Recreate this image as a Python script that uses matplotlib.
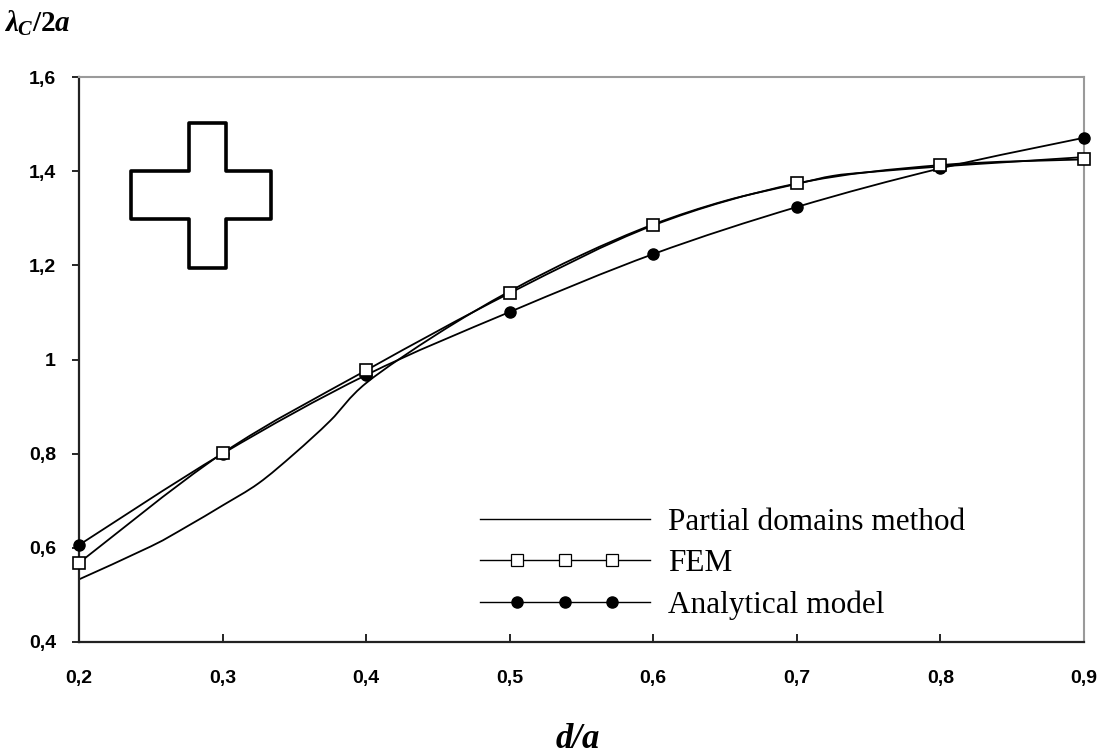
import numpy as np
import matplotlib
matplotlib.use("Agg")
import matplotlib.pyplot as plt
from matplotlib.path import Path
from matplotlib.patches import PathPatch, Polygon
from matplotlib.lines import Line2D
from matplotlib.legend_handler import HandlerLine2DCompound
from matplotlib.ticker import FixedLocator, FixedFormatter

# --- data ---
x_pts = [0.2, 0.3, 0.4, 0.5, 0.6, 0.7, 0.8, 0.9]
fem = [0.568, 0.801, 0.977, 1.141, 1.285, 1.374, 1.413, 1.425]
analytical = [0.606, 0.800, 0.967, 1.101, 1.224, 1.324, 1.406, 1.471]

pdm_x = [0.2, 0.25, 0.275, 0.3, 0.325, 0.35, 0.375, 0.4, 0.45, 0.5,
         0.55, 0.6, 0.65, 0.7, 0.725, 0.75, 0.8, 0.85, 0.9]
pdm_y = [0.533, 0.603, 0.645, 0.69, 0.737, 0.80, 0.870, 0.950, 1.055, 1.145,
         1.222, 1.287, 1.337, 1.373, 1.390, 1.398, 1.410, 1.420, 1.430]

x_ticks = [0.2, 0.3, 0.4, 0.5, 0.6, 0.7, 0.8, 0.9]
x_ticklabels = ["0,2", "0,3", "0,4", "0,5", "0,6", "0,7", "0,8", "0,9"]
y_ticks = [0.4, 0.6, 0.8, 1.0, 1.2, 1.4, 1.6]
y_ticklabels = ["0,4", "0,6", "0,8", "1", "1,2", "1,4", "1,6"]

labels = ["Partial domains method", "FEM", "Analytical model"]

plt.rcParams["mathtext.fontset"] = "custom"
plt.rcParams["mathtext.rm"] = "Liberation Serif:bold"
plt.rcParams["mathtext.it"] = "Liberation Serif:italic:bold"
plt.rcParams["mathtext.bf"] = "Liberation Serif:bold"


def smooth_path(xs, ys):
    # Excel-like smoothed line: Catmull-Rom segments as cubic Beziers
    p = np.column_stack([xs, ys]).astype(float)
    n = len(p)
    verts = [p[0]]
    codes = [Path.MOVETO]
    for i in range(n - 1):
        p0 = p[i - 1] if i > 0 else p[i]
        p3 = p[i + 2] if i + 2 < n else p[i + 1]
        c1 = p[i] + (p[i + 1] - p0) / 6.0
        c2 = p[i + 1] - (p3 - p[i]) / 6.0
        verts += [c1, c2, p[i + 1]]
        codes += [Path.CURVE4] * 3
    return Path(verts, codes)


class SpacedMarkers(HandlerLine2DCompound):
    # line over the full handle width, three markers set in from the ends
    def get_xdata(self, legend, xdescent, ydescent, width, height, fontsize):
        xdata = -xdescent + width * np.array([0.0, 0.5, 1.0])
        xmark = -xdescent + width * np.array([0.22, 0.5, 0.78])
        return xdata, xmark


fig = plt.figure(figsize=(11.05, 7.56), dpi=100)
ax = fig.add_axes([0.0715, 0.1508, 0.9095, 0.7473])

lw = 1.3
ax.add_patch(PathPatch(smooth_path(pdm_x, pdm_y), fill=False, lw=lw, color="black", zorder=2))
ax.add_patch(PathPatch(smooth_path(x_pts, fem), fill=False, lw=lw, color="black", zorder=2))
ax.add_patch(PathPatch(smooth_path(x_pts, analytical), fill=False, lw=lw, color="black", zorder=2))
ax.plot(x_pts, analytical, ls="none", marker="o", ms=8, mfc="black", mec="black", zorder=3, clip_on=False)
ax.plot(x_pts, fem, ls="none", marker="s", ms=8, mfc="white", mec="black", mew=1.2, zorder=4, clip_on=False)

ax.set_xlim(0.2, 0.9)
ax.set_ylim(0.4, 1.6)

ax.xaxis.set_major_locator(FixedLocator(x_ticks))
ax.xaxis.set_major_formatter(FixedFormatter(x_ticklabels))
ax.yaxis.set_major_locator(FixedLocator(y_ticks))
ax.yaxis.set_major_formatter(FixedFormatter(y_ticklabels))

for lab in ax.get_xticklabels() + ax.get_yticklabels():
    lab.set_fontfamily("Liberation Sans")
    lab.set_fontweight("bold")
    lab.set_fontsize(14)
ax.tick_params(axis="x", direction="in", length=6, width=1.2, pad=20, color="black")
ax.tick_params(axis="y", direction="out", length=5, width=1.2, pad=11.5, color="black")

for side in ["left", "bottom"]:
    ax.spines[side].set_color("#222222")
    ax.spines[side].set_linewidth(1.6)
for side in ["top", "right"]:
    ax.spines[side].set_color("#9a9a9a")
    ax.spines[side].set_linewidth(1.5)

# cross-section sketch
x0, x1, x2, x3 = 0.0517, 0.1095, 0.1463, 0.191
y0, y1, y2, y3 = 0.662, 0.7487, 0.8336, 0.9186
cross = [(x1, y3), (x2, y3), (x2, y2), (x3, y2), (x3, y1), (x2, y1), (x2, y0),
         (x1, y0), (x1, y1), (x0, y1), (x0, y2), (x1, y2)]
ax.add_patch(Polygon(cross, closed=True, fill=False, lw=2.6, ec="black",
                     joinstyle="round", transform=ax.transAxes))

h_pdm = Line2D([], [], color="black", lw=1.0)
h_fem = Line2D([], [], color="black", lw=1.0, marker="s", ms=8, mfc="white", mec="black", mew=0.9)
h_an = Line2D([], [], color="black", lw=1.0, marker="o", ms=8, mfc="black", mec="black")
handler = SpacedMarkers()
leg = ax.legend([h_pdm, h_fem, h_an], labels, loc="upper left", numpoints=3,
                bbox_to_anchor=(0.383, 0.265), frameon=False, borderpad=0,
                handlelength=5.44, handletextpad=0.58, labelspacing=0.40,
                prop=dict(family="Liberation Serif", size=22.5),
                handler_map={h_pdm: handler, h_fem: handler, h_an: handler})

fig.text(0.004, 0.958, r"$\lambda_C/2a$", fontsize=21, ha="left", va="baseline")
fig.text(0.523, 0.011, "d/a", fontsize=25, family="Liberation Serif",
         style="italic", weight="bold", ha="center", va="baseline")

fig.savefig("out.png", dpi=100, facecolor="white")
